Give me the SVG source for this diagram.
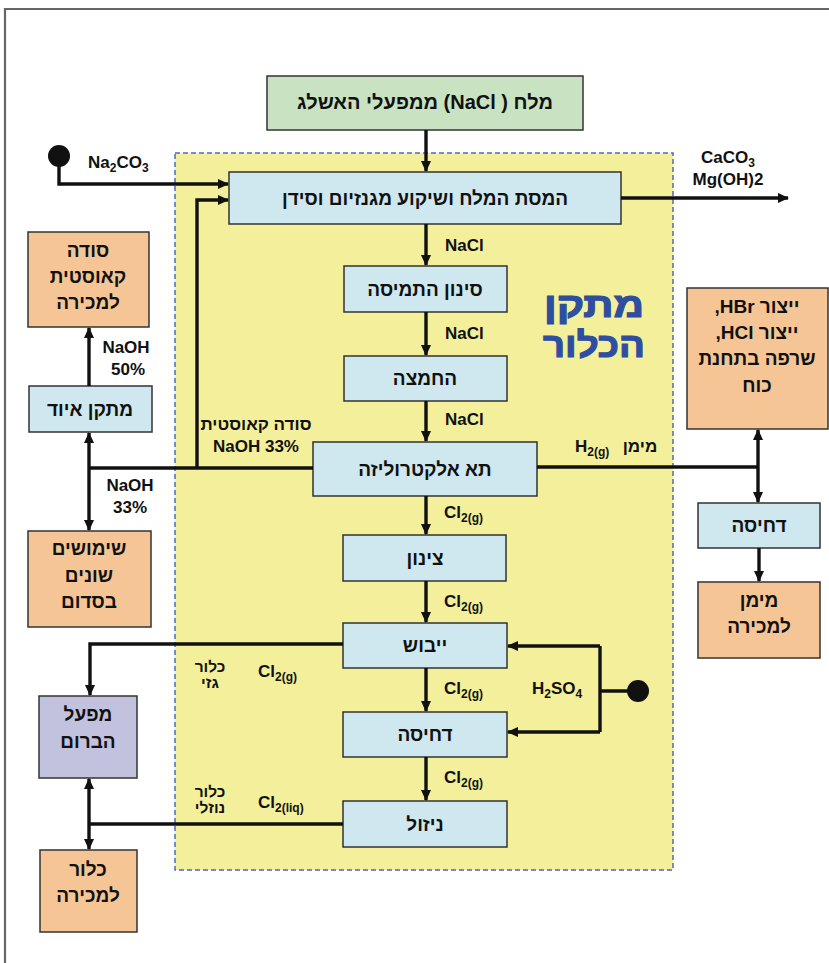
<svg xmlns="http://www.w3.org/2000/svg" width="829" height="963" viewBox="0 0 829 963">
<defs>
<style>
text{font-family:"Liberation Sans","DejaVu Sans",Arial,sans-serif;font-weight:bold;fill:#111;}
.he{direction:rtl;unicode-bidi:embed;}
.bt{font-size:19px;text-anchor:middle;}
.lb{font-size:17px;}
.sm{font-size:15.5px;text-anchor:middle;}
.sub{font-size:12px;}
.box{stroke:#333;stroke-width:1.5;}
.blue{fill:#cfe7ee;}
.orange{fill:#f5c596;}
.green{fill:#c9e2c2;}
.lav{fill:#c2c2de;}
.c{fill:none;stroke:#111;stroke-width:3.4;}
.a{marker-end:url(#ah);}
.title{font-size:35px;text-anchor:middle;fill:#2f4ea1;stroke:#2f4ea1;stroke-width:1.2;}
</style>
<marker id="ah" markerUnits="userSpaceOnUse" markerWidth="11" markerHeight="10" refX="10" refY="5" orient="auto">
<path d="M0,0 L11,5 L0,10 z" fill="#111"/>
</marker>
</defs>
<rect x="0" y="0" width="829" height="963" fill="#fff"/>
<path d="M5,970 V9 H840" fill="none" stroke="#666" stroke-width="2.2"/>

<g id="chlorine-plant">
<rect x="175" y="153" width="498" height="717" fill="#f3ef9b" stroke="#4a6cc0" stroke-width="1.5" stroke-dasharray="5,3"/>
<text class="title he" x="594" y="317" textLength="100" lengthAdjust="spacingAndGlyphs">מתקן</text>
<text class="title he" x="594" y="357" textLength="102" lengthAdjust="spacingAndGlyphs">הכלור</text>
</g>

<g id="salt-source"><rect class="box green" x="267" y="76" width="316" height="54"/><text class="he" x="425" y="109" font-size="20" text-anchor="middle">מלח ( NaCl) ממפעלי האשלג</text></g>
<g id="dissolve"><rect class="box blue" x="229" y="172" width="392" height="52"/><text class="bt he" x="425" y="205">המסת המלח ושיקוע מגנזיום וסידן</text></g>
<g id="filter"><rect class="box blue" x="344" y="266" width="163" height="46"/><text class="bt he" x="425" y="296">סינון התמיסה</text></g>
<g id="acidify"><rect class="box blue" x="344" y="356" width="163" height="45"/><text class="bt he" x="425" y="385">החמצה</text></g>
<g id="electrolysis"><rect class="box blue" x="313" y="442" width="224" height="54"/><text class="bt he" x="425" y="476">תא אלקטרוליזה</text></g>
<g id="cooling"><rect class="box blue" x="343" y="535" width="163" height="46"/><text class="bt he" x="425" y="565">צינון</text></g>
<g id="drying"><rect class="box blue" x="343" y="623" width="164" height="45"/><text class="bt he" x="425" y="652">ייבוש</text></g>
<g id="compression"><rect class="box blue" x="343" y="712" width="164" height="45"/><text class="bt he" x="425" y="741">דחיסה</text></g>
<g id="liquefaction"><rect class="box blue" x="343" y="801" width="164" height="46"/><text class="bt he" x="425" y="831">ניזול</text></g>

<g id="caustic-sale"><rect class="box orange" x="28" y="232" width="121" height="95"/>
<text class="bt he" x="88" y="257">סודה</text><text class="bt he" x="88" y="283">קאוסטית</text><text class="bt he" x="88" y="309">למכירה</text></g>
<g id="evaporator"><rect class="box blue" x="29" y="386" width="123" height="46"/><text class="bt he" x="90" y="416">מתקן איוד</text></g>
<g id="sodom-uses"><rect class="box orange" x="28" y="531" width="123" height="96"/>
<text class="bt he" x="89" y="555">שימושים</text><text class="bt he" x="89" y="582">שונים</text><text class="bt he" x="89" y="608">בסדום</text></g>
<g id="bromine-plant"><rect class="box lav" x="39" y="696" width="98" height="82"/>
<text class="bt he" x="88" y="721">מפעל</text><text class="bt he" x="88" y="748">הברום</text></g>
<g id="chlorine-sale"><rect class="box orange" x="40" y="850" width="97" height="82"/>
<text class="bt he" x="88" y="876">כלור</text><text class="bt he" x="88" y="902">למכירה</text></g>

<g id="hydrogen-uses"><rect class="box orange" x="687" y="288" width="141" height="141"/>
<text class="bt he" x="757" y="313">ייצור HBr,</text><text class="bt he" x="757" y="339">ייצור HCl,</text>
<text class="bt he" x="757" y="365">שרפה בתחנת</text><text class="bt he" x="757" y="392">כוח</text></g>
<g id="h2-compression"><rect class="box blue" x="698" y="503" width="122" height="45"/><text class="bt he" x="759" y="532">דחיסה</text></g>
<g id="hydrogen-sale"><rect class="box orange" x="698" y="582" width="122" height="76"/>
<text class="bt he" x="759" y="607">מימן</text><text class="bt he" x="759" y="633">למכירה</text></g>

<g id="connectors">
<circle cx="59" cy="156" r="11" fill="#111"/>
<circle cx="638" cy="691" r="11" fill="#111"/>
<path class="c a" d="M426,130 V171"/>
<path class="c a" d="M59,156 V184 H228"/>
<path class="c a" d="M197,468 V200 H228"/>
<path class="c a" d="M621,198 H788"/>
<path class="c a" d="M426,224 V265"/>
<path class="c a" d="M426,312 V355"/>
<path class="c a" d="M426,401 V441"/>
<path class="c" d="M313,468 H89"/>
<path class="c a" d="M89,468 V433"/>
<path class="c a" d="M89,468 V530"/>
<path class="c a" d="M89,386 V328"/>
<path class="c a" d="M426,496 V534"/>
<path class="c a" d="M426,581 V622"/>
<path class="c a" d="M426,668 V711"/>
<path class="c a" d="M426,757 V800"/>
<path class="c" d="M537,467 H758"/>
<path class="c a" d="M758,467 V430"/>
<path class="c a" d="M758,467 V502"/>
<path class="c a" d="M759,548 V581"/>
<path class="c" d="M638,691 H600"/>
<path class="c" d="M600,646 V732"/>
<path class="c a" d="M600,646 H508"/>
<path class="c a" d="M600,732 H508"/>
<path class="c a" d="M343,644 H90 V695"/>
<path class="c" d="M343,824 H89"/>
<path class="c a" d="M89,824 V779"/>
<path class="c a" d="M89,824 V849"/>
</g>

<g id="labels">
<text class="lb" x="88" y="168">Na<tspan class="sub" dy="4">2</tspan><tspan dy="-4">CO</tspan><tspan class="sub" dy="4">3</tspan></text>
<text class="lb" x="728" y="163" text-anchor="middle">CaCO<tspan class="sub" dy="4">3</tspan></text>
<text class="lb" x="728" y="185" text-anchor="middle">Mg(OH)2</text>
<text class="lb" x="445" y="251">NaCl</text>
<text class="lb" x="445" y="339">NaCl</text>
<text class="lb" x="445" y="425">NaCl</text>
<text class="lb" x="126" y="353" text-anchor="middle">NaOH</text>
<text class="lb" x="128" y="375" text-anchor="middle">50%</text>
<text class="lb he" x="256" y="430" text-anchor="middle">סודה קאוסטית</text>
<text class="lb" x="256" y="452" text-anchor="middle">NaOH 33%</text>
<text class="lb" x="130" y="491" text-anchor="middle">NaOH</text>
<text class="lb" x="130" y="513" text-anchor="middle">33%</text>
<text class="lb" x="575" y="452">H<tspan class="sub" dy="4">2(g)</tspan></text>
<text class="lb he" x="640" y="452" text-anchor="middle">מימן</text>
<text class="lb" x="444" y="518">Cl<tspan class="sub" dy="4">2(g)</tspan></text>
<text class="lb" x="444" y="607">Cl<tspan class="sub" dy="4">2(g)</tspan></text>
<text class="lb" x="444" y="694">Cl<tspan class="sub" dy="4">2(g)</tspan></text>
<text class="lb" x="444" y="783">Cl<tspan class="sub" dy="4">2(g)</tspan></text>
<text class="lb" x="532" y="694">H<tspan class="sub" dy="4">2</tspan><tspan dy="-4">SO</tspan><tspan class="sub" dy="4">4</tspan></text>
<text class="sm he" x="210" y="672">כלור</text>
<text class="sm he" x="210" y="688">גזי</text>
<text class="lb" x="258" y="677">Cl<tspan class="sub" dy="4">2(g)</tspan></text>
<text class="sm he" x="210" y="797">כלור</text>
<text class="sm he" x="210" y="813">נוזלי</text>
<text class="lb" x="258" y="808">Cl<tspan class="sub" dy="4">2(liq)</tspan></text>
</g>
</svg>
